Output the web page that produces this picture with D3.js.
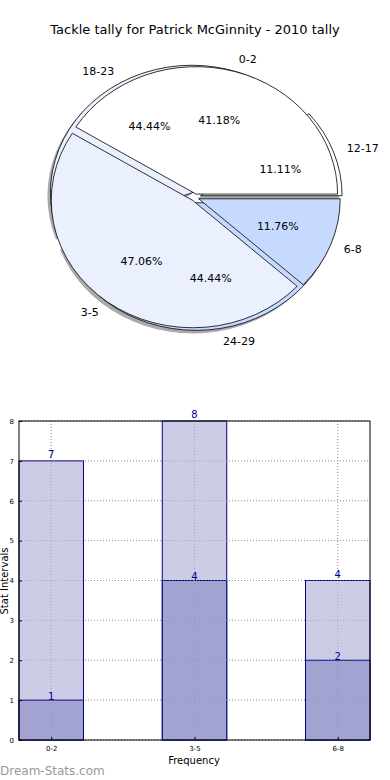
<!DOCTYPE html>
<html>
<head>
<meta charset="utf-8">
<script src="https://cdn.jsdelivr.net/npm/d3@7"></script>
<style>
  body { margin: 0; background: #fff; }
  svg { display: block; font-family: "DejaVu Sans", sans-serif; }
</style>
</head>
<body>
<svg id="graphic" width="390" height="780"></svg>
<script>
// pie data (two overlaid pies, as in the original)
var tallyLabels = ["0-2", "3-5", "6-8"];
var tallyValues = [7, 8, 2];
var rangeLabels = ["12-17", "18-23", "24-29"];
var rangeValues = [1, 4, 4];
var pieColors = ["#ffffff", "#eaf0fe", "#c6d9ff"];

// bar data
var barCategories = ["0-2", "3-5", "6-8"];
var barTotals = [7, 8, 4];
var barInner = [1, 4, 2];
var yTicks = [0, 1, 2, 3, 4, 5, 6, 7, 8];

var svg = d3.select("#graphic");

svg.append("text")
  .attr("x", 195).attr("y", 34)
  .attr("text-anchor", "middle")
  .attr("font-size", 13)
  .text("Tackle tally for Patrick McGinnity - 2010 tally");

// ---- pie ----
var cx = 195, cy = 197.5, rx = 141.5, ry = 127.5;

var pie = d3.pie().sort(null)
  .startAngle(Math.PI / 2)
  .endAngle(Math.PI / 2 - 2 * Math.PI);

var arc = d3.arc().innerRadius(0).outerRadius(1);

function drawPie(values, labels, explode, withShadow) {
  var arcs = pie(values);
  var g = svg.append("g");

  arcs.forEach(function (d, i) {
    var m = (d.startAngle + d.endAngle) / 2;
    d.mid = m;
    d.ox = explode * Math.sin(m) * rx;
    d.oy = -explode * Math.cos(m) * ry;
  });

  if (withShadow) {
    arcs.forEach(function (d) {
      g.append("path")
        .attr("d", arc(d))
        .attr("transform", "translate(" + (cx + d.ox - 3) + "," + (cy + d.oy + 3) + ") scale(" + rx + "," + ry + ")")
        .attr("fill", "#555")
        .attr("opacity", 0.5);
    });
  }

  arcs.forEach(function (d, i) {
    g.append("path")
      .attr("d", arc(d))
      .attr("transform", "translate(" + (cx + d.ox) + "," + (cy + d.oy) + ") scale(" + rx + "," + ry + ")")
      .attr("fill", pieColors[i])
      .attr("stroke", "#000")
      .attr("stroke-width", 0.8)
      .attr("vector-effect", "non-scaling-stroke");
  });

  return arcs.map(function (d, i) {
    return { d: d, label: labels[i], pct: (d.value / d3.sum(values) * 100).toFixed(2) + "%" };
  });
}

var back = drawPie(rangeValues, rangeLabels, 0.042, true);
var front = drawPie(tallyValues, tallyLabels, 0.028, false);

back.concat(front).forEach(function (o) {
  var d = o.d, s = Math.sin(d.mid), c = Math.cos(d.mid);
  svg.append("text")
    .attr("x", cx + d.ox + 1.1 * rx * s)
    .attr("y", cy + d.oy - 1.1 * ry * c)
    .attr("dy", "0.35em")
    .attr("text-anchor", s >= 0 ? "start" : "end")
    .attr("font-size", 11)
    .text(o.label);
  svg.append("text")
    .attr("x", cx + d.ox + 0.6 * rx * s)
    .attr("y", cy + d.oy - 0.6 * ry * c)
    .attr("dy", "0.35em")
    .attr("text-anchor", "middle")
    .attr("font-size", 11)
    .text(o.pct);
});

// ---- bars ----
var plotLeft = 19, plotRight = 370, plotTop = 421, plotBottom = 740;
var x = d3.scaleLinear().domain([-0.225, 2.225]).range([plotLeft, plotRight]);
var y = d3.scaleLinear().domain([0, 8]).range([plotBottom, plotTop]);
var bw = x(0.45) - x(0);

function drawGrid(color, opacity) {
  var grid = svg.append("g")
    .attr("stroke", color)
    .attr("stroke-width", 1)
    .attr("stroke-dasharray", "1,2")
    .attr("opacity", opacity);
  yTicks.forEach(function (t) {
    grid.append("line").attr("x1", plotLeft).attr("x2", plotRight).attr("y1", y(t)).attr("y2", y(t));
  });
  barCategories.forEach(function (c, i) {
    grid.append("line").attr("x1", x(i)).attr("x2", x(i)).attr("y1", plotTop).attr("y2", plotBottom);
  });
}

drawGrid("#b0b0b0", 1);

barCategories.forEach(function (c, i) {
  svg.append("rect")
    .attr("x", x(i) - bw / 2).attr("y", y(barTotals[i]))
    .attr("width", bw).attr("height", y(0) - y(barTotals[i]))
    .attr("fill", "#cccce6").attr("stroke", "#000080").attr("stroke-width", 1);
  svg.append("rect")
    .attr("x", x(i) - bw / 2).attr("y", y(barInner[i]))
    .attr("width", bw).attr("height", y(0) - y(barInner[i]))
    .attr("fill", "#a3a3d1").attr("stroke", "#000080").attr("stroke-width", 1);
});

// grid shows through the bars in the original
drawGrid("#8c8ca0", 0.6);

barCategories.forEach(function (c, i) {
  svg.append("text")
    .attr("x", x(i)).attr("y", y(barTotals[i]) - 3)
    .attr("text-anchor", "middle").attr("font-size", 10).attr("fill", "#00008b")
    .text(barTotals[i]);
  svg.append("text")
    .attr("x", x(i)).attr("y", y(barInner[i]) - 0.5)
    .attr("text-anchor", "middle").attr("font-size", 10).attr("fill", "#00008b")
    .text(barInner[i]);
});

// frame + axes
svg.append("rect")
  .attr("x", plotLeft).attr("y", plotTop)
  .attr("width", plotRight - plotLeft).attr("height", plotBottom - plotTop)
  .attr("fill", "none").attr("stroke", "#000").attr("stroke-width", 1);

var yAxis = d3.axisLeft(y).tickValues(yTicks).tickSize(-3).tickPadding(5);
svg.append("g").attr("transform", "translate(" + plotLeft + ",0)").call(yAxis)
  .call(function (g) { g.select(".domain").remove(); })
  .selectAll("text").attr("font-size", 7).attr("font-family", "DejaVu Sans");

var xAxis = d3.axisBottom(x).tickValues([0, 1, 2])
  .tickFormat(function (d) { return barCategories[d]; })
  .tickSize(-3).tickPadding(6);
svg.append("g").attr("transform", "translate(0," + plotBottom + ")").call(xAxis)
  .call(function (g) { g.select(".domain").remove(); })
  .selectAll("text").attr("font-size", 7).attr("font-family", "DejaVu Sans");

svg.append("text")
  .attr("x", 194).attr("y", 764)
  .attr("text-anchor", "middle").attr("font-size", 10)
  .text("Frequency");

svg.append("text")
  .attr("transform", "translate(8,581) rotate(-90)")
  .attr("text-anchor", "middle").attr("font-size", 10)
  .text("Stat Intervals");

svg.append("text")
  .attr("x", 0).attr("y", 775)
  .attr("font-size", 12).attr("fill", "#999")
  .text("Dream-Stats.com");
</script>
</body>
</html>
